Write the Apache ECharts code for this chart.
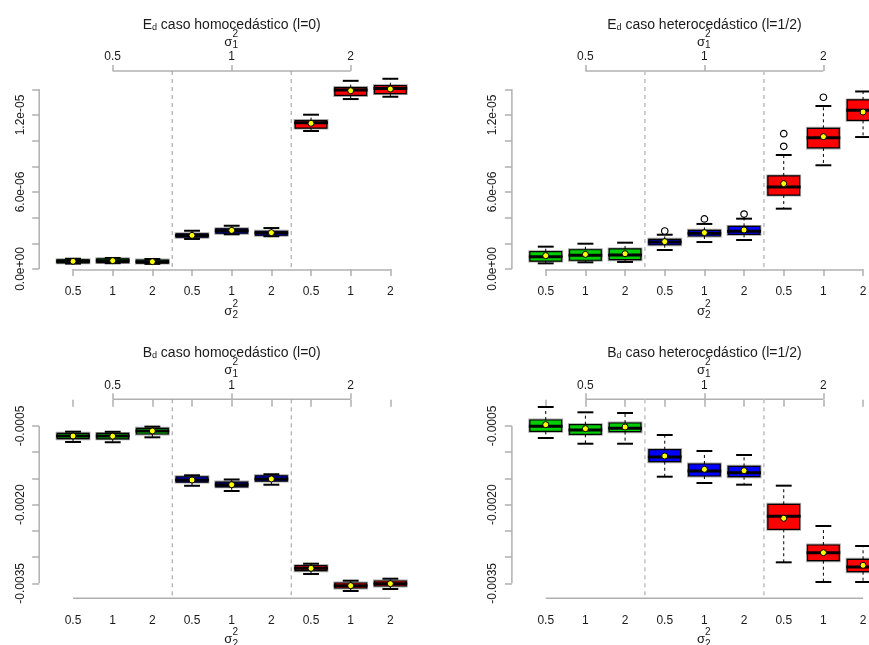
<!DOCTYPE html>
<html><head><meta charset="utf-8">
<script src="https://cdn.jsdelivr.net/npm/echarts@6/dist/echarts.min.js"></script>
<style>html,body{margin:0;padding:0;background:#fff}#c{width:869px;height:645px}</style>
</head><body><div id="c"></div>
<script>
// ---------- data ----------
const sigma2Labels = ['0.5','1','2','0.5','1','2','0.5','1','2'];
const sigma1Labels = ['0.5','1','2'];
const sigma1Positions = [1, 4, 7];
const groupOf = [0,0,0,1,1,1,2,2,2];
const groupStarts = [3, 6];

// [lower whisker, Q1, median, Q3, upper whisker]
const edHomoBoxes = [
  [4.2e-7, 4.8e-7, 6.0e-7, 7.2e-7, 8.0e-7],
  [4.5e-7, 5.0e-7, 6.5e-7, 8.0e-7, 8.6e-7],
  [4.0e-7, 4.6e-7, 5.7e-7, 7.0e-7, 7.8e-7],
  [2.34e-6, 2.48e-6, 2.60e-6, 2.74e-6, 2.98e-6],
  [2.70e-6, 2.79e-6, 2.98e-6, 3.13e-6, 3.37e-6],
  [2.55e-6, 2.63e-6, 2.80e-6, 2.94e-6, 3.19e-6],
  [1.075e-5, 1.098e-5, 1.140e-5, 1.156e-5, 1.202e-5],
  [1.324e-5, 1.352e-5, 1.394e-5, 1.413e-5, 1.466e-5],
  [1.342e-5, 1.367e-5, 1.407e-5, 1.428e-5, 1.482e-5]
];
const edHomoMeans = [6.0e-7, 6.5e-7, 5.7e-7, 2.62e-6, 3.01e-6, 2.83e-6, 1.135e-5, 1.389e-5, 1.402e-5];
const edHomoOutliers = [];

const edHeteroBoxes = [
  [4.4e-7, 6.2e-7, 9.6e-7, 1.35e-6, 1.74e-6],
  [5.2e-7, 6.8e-7, 1.07e-6, 1.50e-6, 1.97e-6],
  [5.5e-7, 7.3e-7, 1.09e-6, 1.56e-6, 2.05e-6],
  [1.48e-6, 1.89e-6, 2.10e-6, 2.31e-6, 2.67e-6],
  [2.10e-6, 2.57e-6, 2.78e-6, 3.01e-6, 3.51e-6],
  [2.26e-6, 2.70e-6, 2.94e-6, 3.32e-6, 3.92e-6],
  [4.70e-6, 5.76e-6, 6.39e-6, 7.25e-6, 8.88e-6],
  [8.08e-6, 9.43e-6, 1.023e-5, 1.096e-5, 1.270e-5],
  [1.028e-5, 1.158e-5, 1.236e-5, 1.317e-5, 1.383e-5]
];
const edHeteroMeans = [1.04e-6, 1.14e-6, 1.19e-6, 2.13e-6, 2.83e-6, 3.04e-6, 6.65e-6, 1.031e-5, 1.223e-5];
const edHeteroOutliers = [[3, 2.96e-6], [4, 3.90e-6], [5, 4.28e-6], [6, 9.56e-6], [6, 1.054e-5], [7, 1.338e-5]];

const bdHomoBoxes = [
  [-8.05e-4, -7.42e-4, -6.91e-4, -6.39e-4, -6.08e-4],
  [-8.10e-4, -7.45e-4, -6.93e-4, -6.42e-4, -6.10e-4],
  [-7.16e-4, -6.53e-4, -5.97e-4, -5.44e-4, -5.12e-4],
  [-1.64e-3, -1.57e-3, -1.53e-3, -1.47e-3, -1.44e-3],
  [-1.74e-3, -1.66e-3, -1.62e-3, -1.57e-3, -1.52e-3],
  [-1.62e-3, -1.55e-3, -1.51e-3, -1.45e-3, -1.42e-3],
  [-3.322e-3, -3.260e-3, -3.214e-3, -3.164e-3, -3.126e-3],
  [-3.647e-3, -3.590e-3, -3.545e-3, -3.494e-3, -3.450e-3],
  [-3.609e-3, -3.551e-3, -3.507e-3, -3.456e-3, -3.412e-3]
];
const bdHomoMeans = [-6.91e-4, -6.94e-4, -5.95e-4, -1.53e-3, -1.62e-3, -1.51e-3, -3.214e-3, -3.545e-3, -3.507e-3];
const bdHomoOutliers = [];

const bdHeteroBoxes = [
  [-7.29e-4, -6.01e-4, -5.06e-4, -3.86e-4, -1.38e-4],
  [-8.38e-4, -6.59e-4, -5.76e-4, -4.75e-4, -2.39e-4],
  [-8.38e-4, -6.08e-4, -5.44e-4, -4.43e-4, -2.52e-4],
  [-1.467e-3, -1.181e-3, -1.091e-3, -9.52e-4, -6.72e-4],
  [-1.587e-3, -1.454e-3, -1.358e-3, -1.225e-3, -9.77e-4],
  [-1.619e-3, -1.467e-3, -1.390e-3, -1.269e-3, -1.053e-3],
  [-3.100e-3, -2.470e-3, -2.222e-3, -1.993e-3, -1.638e-3],
  [-3.475e-3, -3.069e-3, -2.916e-3, -2.770e-3, -2.407e-3],
  [-3.475e-3, -3.279e-3, -3.189e-3, -3.042e-3, -2.789e-3]
];
const bdHeteroMeans = [-4.75e-4, -5.51e-4, -5.19e-4, -1.072e-3, -1.326e-3, -1.352e-3, -2.260e-3, -2.916e-3, -3.157e-3];
const bdHeteroOutliers = [];

// axis ticks / labels
const edRange = [-7.8e-8, 1.5425e-5];
const edTickValues = [0, 2e-6, 4e-6, 6e-6, 8e-6, 1e-5, 1.2e-5, 1.4e-5];
const edLabelValues = [0, 6e-6, 1.2e-5];
const edLabelTexts = ['0.0e+00', '6.0e-06', '1.2e-05'];
const bdRange = [-0.003786, 0.0000091];
const bdTickValues = [-0.0035, -0.003, -0.0025, -0.002, -0.0015, -0.001, -0.0005];
const bdLabelValues = [-0.0035, -0.002, -0.0005];
const bdLabelTexts = ['-0.0035', '-0.0020', '-0.0005'];

const titles = [
  ['E', 'd', ' caso homocedástico (l=0)'],
  ['E', 'd', ' caso heterocedástico (l=1/2)'],
  ['B', 'd', ' caso homocedástico (l=0)'],
  ['B', 'd', ' caso heterocedástico (l=1/2)']
];

// ---------- styles / layout ----------
const FONT = '"Liberation Sans", Arial, Helvetica, sans-serif';
const TXT = '#1a1a1a';
const AXIS_COLOR = '#b0b0b0';
const groupColors = ['#00CD00', '#0000FF', '#FF0000'];
const PLOT_W = 357, PLOT_H = 199;
const panelLayout = [
  {left: 53.2, top: 71, sepColor: '#9a9a9a', sepWidth: 1},
  {left: 525.9, top: 71, sepColor: '#c4c4c4', sepWidth: 1.6},
  {left: 53.2, top: 399.3, sepColor: '#9a9a9a', sepWidth: 1},
  {left: 525.9, top: 399.3, sepColor: '#c4c4c4', sepWidth: 1.6}
];
const panels = [
  {boxes: edHomoBoxes, means: edHomoMeans, outliers: edHomoOutliers, range: edRange, ticks: edTickValues, lv: edLabelValues, lt: edLabelTexts},
  {boxes: edHeteroBoxes, means: edHeteroMeans, outliers: edHeteroOutliers, range: edRange, ticks: edTickValues, lv: edLabelValues, lt: edLabelTexts},
  {boxes: bdHomoBoxes, means: bdHomoMeans, outliers: bdHomoOutliers, range: bdRange, ticks: bdTickValues, lv: bdLabelValues, lt: bdLabelTexts},
  {boxes: bdHeteroBoxes, means: bdHeteroMeans, outliers: bdHeteroOutliers, range: bdRange, ticks: bdTickValues, lv: bdLabelValues, lt: bdLabelTexts}
];
const catKeys = sigma2Labels.map((_, i) => String(i));

function renderBox(params, api) {
  const i = api.value(0);
  const lo = api.coord([i, api.value(1)]);
  const q1 = api.coord([i, api.value(2)]);
  const md = api.coord([i, api.value(3)]);
  const q3 = api.coord([i, api.value(4)]);
  const hi = api.coord([i, api.value(5)]);
  const bw = api.size([1, 0])[0];
  const half = bw * 0.4, st = bw * 0.2, x = md[0];
  const dash = {stroke: '#000', lineWidth: 1, lineDash: [3, 3]};
  const solid = {stroke: '#000', lineWidth: 2};
  return {type: 'group', children: [
    {type: 'line', shape: {x1: x, y1: q3[1], x2: x, y2: hi[1]}, style: dash},
    {type: 'line', shape: {x1: x, y1: q1[1], x2: x, y2: lo[1]}, style: dash},
    {type: 'line', shape: {x1: x - st, y1: hi[1], x2: x + st, y2: hi[1]}, style: solid},
    {type: 'line', shape: {x1: x - st, y1: lo[1], x2: x + st, y2: lo[1]}, style: solid},
    {type: 'rect', shape: {x: x - half, y: q3[1], width: 2 * half, height: q1[1] - q3[1]},
      style: {fill: groupColors[groupOf[i]], stroke: 'rgba(0,0,0,0.35)', lineWidth: 3}},
    {type: 'rect', shape: {x: x - half, y: q3[1], width: 2 * half, height: q1[1] - q3[1]},
      style: {fill: groupColors[groupOf[i]], stroke: '#000', lineWidth: 1.2}},
    {type: 'line', shape: {x1: x - half - 1, y1: md[1], x2: x + half + 1, y2: md[1]}, style: {stroke: '#000', lineWidth: 3}}
  ]};
}

function makeFrame(p, L) {
  return function (params, api) {
    const cs = params.coordSys;
    const bw = api.size([1, 0])[0];
    const yTop = api.coord([0, Math.max(...p.ticks)])[1];
    const yBot = api.coord([0, Math.min(...p.ticks)])[1];
    const xFirst = api.coord([0, 0])[0];
    const xLast = api.coord([sigma2Labels.length - 1, 0])[0];
    const xs1 = api.coord([sigma1Positions[0], 0])[0];
    const xs2 = api.coord([sigma1Positions[sigma1Positions.length - 1], 0])[0];
    const ax = {stroke: AXIS_COLOR, lineWidth: 1.5};
    const children = [
      {type: 'line', shape: {x1: cs.x - 14, y1: yTop, x2: cs.x - 14, y2: yBot}, style: ax},
      {type: 'line', shape: {x1: xFirst, y1: cs.y + cs.height, x2: xLast, y2: cs.y + cs.height}, style: ax},
      {type: 'line', shape: {x1: xs1, y1: cs.y, x2: xs2, y2: cs.y}, style: ax}
    ];
    groupStarts.forEach(g => {
      const xs = api.coord([g, 0])[0] - bw / 2;
      children.push({type: 'line', shape: {x1: xs, y1: cs.y, x2: xs, y2: cs.y + cs.height},
        style: {stroke: L.sepColor, lineWidth: L.sepWidth, lineDash: [4, 4]}});
    });
    return {type: 'group', children};
  };
}

const option = {animation: false, backgroundColor: '#ffffff', grid: [], xAxis: [], yAxis: [], series: [], graphic: []};
const tickStyle = {color: AXIS_COLOR, width: 1.5};

panels.forEach((p, i) => {
  const L = panelLayout[i];
  option.grid.push({left: L.left, top: L.top, width: PLOT_W, height: PLOT_H,
    containLabel: false, outerBoundsMode: 'none'});
  option.xAxis.push({
    type: 'category', gridIndex: i, position: 'bottom', data: catKeys, boundaryGap: true,
    axisLine: {show: false}, splitLine: {show: false},
    axisTick: {show: true, alignWithLabel: true, interval: 0, length: 7, lineStyle: tickStyle},
    axisLabel: {interval: 0, margin: 16, fontSize: 12, fontFamily: FONT, color: TXT,
      formatter: (v, idx) => sigma2Labels[idx]}
  });
  option.xAxis.push({
    type: 'category', gridIndex: i, position: 'top', data: catKeys, boundaryGap: true,
    axisLine: {show: false}, splitLine: {show: false},
    axisTick: {show: true, alignWithLabel: true, length: 6, lineStyle: tickStyle,
      interval: (idx) => sigma1Positions.indexOf(idx) >= 0},
    axisLabel: {margin: 8, fontSize: 12, fontFamily: FONT, color: TXT,
      interval: (idx) => sigma1Positions.indexOf(idx) >= 0,
      formatter: (v, idx) => sigma1Labels[sigma1Positions.indexOf(idx)] || ''}
  });
  option.yAxis.push({
    type: 'value', gridIndex: i, min: p.range[0], max: p.range[1], offset: 14,
    axisLine: {show: false}, splitLine: {show: false},
    axisTick: {show: true, length: 7, lineStyle: tickStyle, customValues: p.ticks},
    axisLabel: {customValues: p.lv, rotate: 90, margin: 13, fontSize: 12, fontFamily: FONT, color: TXT,
      formatter: (v) => {
        let best = 0;
        p.lv.forEach((lv, k) => { if (Math.abs(lv - v) < Math.abs(p.lv[best] - v)) best = k; });
        return p.lt[best];
      }}
  });
  option.series.push({type: 'custom', xAxisIndex: 2 * i, yAxisIndex: i, silent: true, z: 1,
    data: [[0, p.ticks[0]]], renderItem: makeFrame(p, L)});
  option.series.push({type: 'custom', xAxisIndex: 2 * i, yAxisIndex: i, z: 2,
    encode: {x: 0, y: [1, 2, 3, 4, 5]},
    data: p.boxes.map((b, k) => [k].concat(b)), renderItem: renderBox});
  option.series.push({type: 'scatter', xAxisIndex: 2 * i, yAxisIndex: i, z: 4,
    symbol: 'circle', symbolSize: 6,
    itemStyle: {color: '#FFFF00', borderColor: '#000', borderWidth: 1, opacity: 1},
    data: p.means.map((m, k) => [k, m])});
  option.series.push({type: 'scatter', xAxisIndex: 2 * i, yAxisIndex: i, z: 4,
    symbol: 'circle', symbolSize: 6.5,
    itemStyle: {color: '#ffffff', borderColor: '#000', borderWidth: 1.2, opacity: 1},
    data: p.outliers});

  // texts
  const cx = L.left + PLOT_W / 2;
  const dy = L.top - 71;
  option.graphic.push({type: 'text', x: cx, y: 24 + dy, z: 10, style: {
    text: '{m|' + titles[i][0] + '}{s|' + titles[i][1] + '}{m|' + titles[i][2] + '}',
    align: 'center', verticalAlign: 'middle',
    rich: {m: {fontSize: 14, fontFamily: FONT, fill: TXT, lineHeight: 16, verticalAlign: 'bottom'},
           s: {fontSize: 9, fontFamily: FONT, fill: TXT, lineHeight: 9, verticalAlign: 'bottom'}}
  }});
  const sig = (x, y, sup, sub, supOff, subOff) => {
    option.graphic.push({type: 'text', x: x - 3.5, y: y, z: 10, style: {text: 'σ', font: '13px ' + FONT, fill: TXT, align: 'center', verticalAlign: 'middle'}});
    option.graphic.push({type: 'text', x: x + 3.5, y: y + supOff, z: 10, style: {text: sup, font: '10px ' + FONT, fill: TXT, align: 'center', verticalAlign: 'middle'}});
    option.graphic.push({type: 'text', x: x + 3.5, y: y + subOff, z: 10, style: {text: sub, font: '10px ' + FONT, fill: TXT, align: 'center', verticalAlign: 'middle'}});
  };
  sig(cx, 42 + dy, '2', '1', -8, 3.5);
  sig(cx, 311 + dy, '2', '2', -7, 4.5);
});

const chart = echarts.init(document.getElementById('c'), null, {renderer: 'canvas'});
chart.setOption(option);
</script></body></html>
